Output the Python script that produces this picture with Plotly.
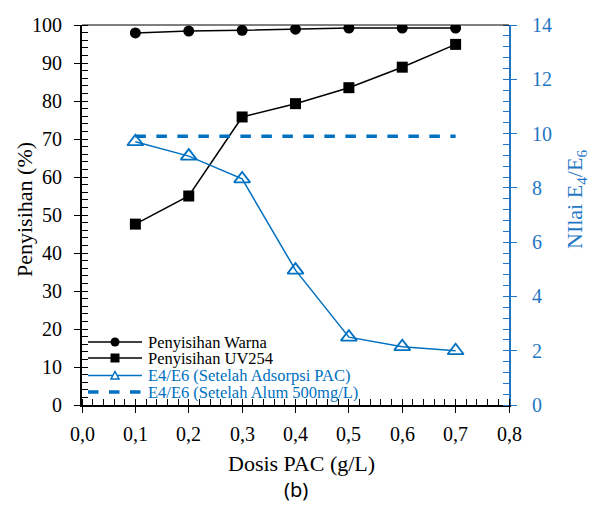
import plotly.graph_objects as go

dosis = [0.1, 0.2, 0.3, 0.4, 0.5, 0.6, 0.7]
warna = [97.9, 98.4, 98.6, 98.9, 99.2, 99.2, 99.2]
uv254 = [47.6, 55.0, 75.8, 79.3, 83.5, 88.9, 94.9]
e4e6_pac = [9.7, 9.17, 8.33, 4.97, 2.5, 2.15, 2.0]
e4e6_alum = [9.9] * 7

legend_names = ["Penyisihan Warna", "Penyisihan UV254",
                "E4/E6 (Setelah Adsorpsi PAC)", "E4/E6 (Setelah Alum 500mg/L)"]

x_ticks = [0.0, 0.1, 0.2, 0.3, 0.4, 0.5, 0.6, 0.7, 0.8]
x_ticklabels = ["0,0", "0,1", "0,2", "0,3", "0,4", "0,5", "0,6", "0,7", "0,8"]
y_ticks = [0, 10, 20, 30, 40, 50, 60, 70, 80, 90, 100]
y2_ticks = [0, 2, 4, 6, 8, 10, 12, 14]

BLUE = "#0070C0"
AXBLUE = "#1F77C3"
SERIF = "Liberation Serif"

fig = go.Figure()
fig.add_trace(go.Scatter(x=dosis, y=warna, name=legend_names[0], mode="lines+markers",
                         line=dict(color="black", width=1.5), showlegend=False,
                         marker=dict(symbol="circle", size=11, color="black")))
fig.add_trace(go.Scatter(x=dosis, y=uv254, name=legend_names[1], mode="lines+markers",
                         line=dict(color="black", width=1.5), showlegend=False,
                         marker=dict(symbol="square", size=11, color="black")))
fig.add_trace(go.Scatter(x=dosis, y=e4e6_pac, yaxis="y2", name=legend_names[2],
                         mode="lines+markers", showlegend=False,
                         line=dict(color=BLUE, width=1.5),
                         marker=dict(symbol="triangle-up-open", size=14, color=BLUE,
                                     line=dict(width=1.8, color=BLUE))))
fig.add_trace(go.Scatter(x=dosis, y=e4e6_alum, yaxis="y2", name=legend_names[3],
                         mode="lines", showlegend=False,
                         line=dict(color=BLUE, width=3.5, dash="dash")))

TICKF = 20
TITLEF = 22

fig.update_layout(
    width=593, height=507,
    margin=dict(l=82, r=84, t=25, b=102),
    paper_bgcolor="white", plot_bgcolor="white",
    font=dict(family=SERIF, size=TICKF, color="black"),
    showlegend=False,
    xaxis=dict(range=[0, 0.8], tickvals=x_ticks, showticklabels=False, showgrid=False, zeroline=False,
               showline=True, linecolor="black", linewidth=1.5,
               ticks="outside", ticklen=6, tickcolor="black", tickwidth=1.2,
               minor=dict(ticks="inside", dtick=0.02, ticklen=6, tickcolor="black", tickwidth=1)),
    xaxis2=dict(range=[0, 0.8], tickvals=x_ticks, overlaying="x", anchor="y", showgrid=False,
                zeroline=False, showline=False, ticks="inside", ticklen=6, tickcolor="black",
                tickwidth=1.2, showticklabels=False),
    yaxis=dict(range=[0, 100], tickvals=y_ticks, showticklabels=False, showgrid=False, zeroline=False,
               showline=True, linecolor="black", linewidth=1.5,
               ticks="outside", ticklen=6, tickcolor="black", tickwidth=1.2,
               minor=dict(ticks="inside", dtick=2, ticklen=6, tickcolor="black", tickwidth=1)),
    yaxis3=dict(range=[0, 100], tickvals=y_ticks, overlaying="y", anchor="x", side="left",
                showgrid=False, zeroline=False, showline=False, ticks="inside", ticklen=6,
                tickcolor="black", tickwidth=1.2, showticklabels=False),
    yaxis2=dict(range=[0, 14], tickvals=y2_ticks, showticklabels=False, overlaying="y", side="right",
                showgrid=False, zeroline=False,
                showline=True, linecolor=AXBLUE, linewidth=1.5,
                ticks="outside", ticklen=6, tickcolor=AXBLUE, tickwidth=1.2,
                minor=dict(ticks="inside", dtick=0.4, ticklen=6, tickcolor=AXBLUE, tickwidth=1)),
    yaxis4=dict(range=[0, 14], tickvals=y2_ticks, overlaying="y", anchor="x", side="right",
                showgrid=False, zeroline=False, showline=False, ticks="inside", ticklen=6,
                tickcolor=AXBLUE, tickwidth=1.2, showticklabels=False),
)

# invisible helper traces so the overlay axes (crossing major ticks) are drawn
fig.add_trace(go.Scatter(x=[None], y=[None], xaxis="x2", yaxis="y", showlegend=False, hoverinfo="skip"))
fig.add_trace(go.Scatter(x=[None], y=[None], xaxis="x", yaxis="y3", showlegend=False, hoverinfo="skip"))
fig.add_trace(go.Scatter(x=[None], y=[None], xaxis="x", yaxis="y4", showlegend=False, hoverinfo="skip"))

# top frame line
fig.add_shape(type="line", xref="paper", yref="paper", x0=0, x1=1, y0=1, y1=1,
              line=dict(color="black", width=1))

PW, PH = 427.0, 380.0  # plot area size in px
def px_x(p):
    return (p - 82) / PW
def px_y(p):
    return (405 - p) / PH

# tick labels (positioned by the axes' own scales)
for v, lab in zip(x_ticks, x_ticklabels):
    fig.add_annotation(text=lab, xref="x", yref="paper", x=v, y=0, xanchor="center",
                       yanchor="middle", yshift=-29, showarrow=False,
                       font=dict(family=SERIF, size=TICKF, color="black"))
for v in y_ticks:
    fig.add_annotation(text=str(v), xref="paper", yref="y", x=0, y=v, xanchor="right",
                       yanchor="middle", xshift=-18, showarrow=False,
                       font=dict(family=SERIF, size=TICKF, color="black"))
for v in y2_ticks:
    fig.add_annotation(text=str(v), xref="paper", yref="y2", x=1, y=v, xanchor="left",
                       yanchor="middle", xshift=21, showarrow=False,
                       font=dict(family=SERIF, size=TICKF, color=AXBLUE))

# axis titles
fig.add_annotation(text="Penyisihan (%)", xref="paper", yref="paper", x=px_x(25), y=px_y(209),
                   xanchor="center", yanchor="middle", textangle=-90, showarrow=False,
                   font=dict(family=SERIF, size=TITLEF, color="black"))
fig.add_annotation(text="Dosis PAC (g/L)", xref="paper", yref="paper", x=px_x(301), y=px_y(463),
                   xanchor="center", yanchor="middle", showarrow=False,
                   font=dict(family=SERIF, size=TITLEF, color="black"))
fig.add_annotation(text="NIlai E<sub>4</sub>/E<sub>6</sub>", xref="paper", yref="paper",
                   x=px_x(576), y=px_y(200), xanchor="center", yanchor="middle", textangle=-90,
                   showarrow=False, font=dict(family=SERIF, size=TITLEF, color=AXBLUE))

# ---- legend (bottom-left inside the plot) ----
rows = [342, 358, 375.5, 392]
lx0, lx1, mx, tx = px_x(88), px_x(142), px_x(115), px_x(146)
colors = ["black", "black", BLUE, BLUE]
for i, (ry, name, col) in enumerate(zip(rows, legend_names, colors)):
    yy = px_y(ry)
    if i == 3:
        fig.add_shape(type="line", xref="paper", yref="paper", x0=lx0, x1=lx1, y0=yy, y1=yy,
                      line=dict(color=BLUE, width=3.5, dash="dash"))
    else:
        fig.add_shape(type="line", xref="paper", yref="paper", x0=lx0, x1=lx1, y0=yy, y1=yy,
                      line=dict(color=col, width=1.5))
    if i == 0:
        fig.add_shape(type="circle", xref="paper", yref="paper", xsizemode="pixel", ysizemode="pixel",
                      xanchor=mx, yanchor=yy, x0=-4.5, x1=4.5, y0=-4.5, y1=4.5,
                      fillcolor="black", line=dict(color="black", width=0))
    elif i == 1:
        fig.add_shape(type="rect", xref="paper", yref="paper", xsizemode="pixel", ysizemode="pixel",
                      xanchor=mx, yanchor=yy, x0=-4.5, x1=4.5, y0=-4.5, y1=4.5,
                      fillcolor="black", line=dict(color="black", width=0))
    elif i == 2:
        fig.add_shape(type="path", xref="paper", yref="paper", xsizemode="pixel", ysizemode="pixel",
                      xanchor=mx, yanchor=yy, path="M -4,-3.5 L 4,-3.5 L 0,4 Z",
                      fillcolor="white", line=dict(color=BLUE, width=1.5))
    fig.add_annotation(text=name, xref="paper", yref="paper", x=tx, y=yy, xanchor="left",
                       yanchor="middle", showarrow=False,
                       font=dict(family=SERIF, size=16.5, color=col))

fig.add_annotation(text="(b)", xref="paper", yref="paper", x=px_x(296), y=px_y(489),
                   xanchor="center", yanchor="middle", showarrow=False,
                   font=dict(family="Noto Sans", size=20, color="black"))

fig.write_html("out.html")
